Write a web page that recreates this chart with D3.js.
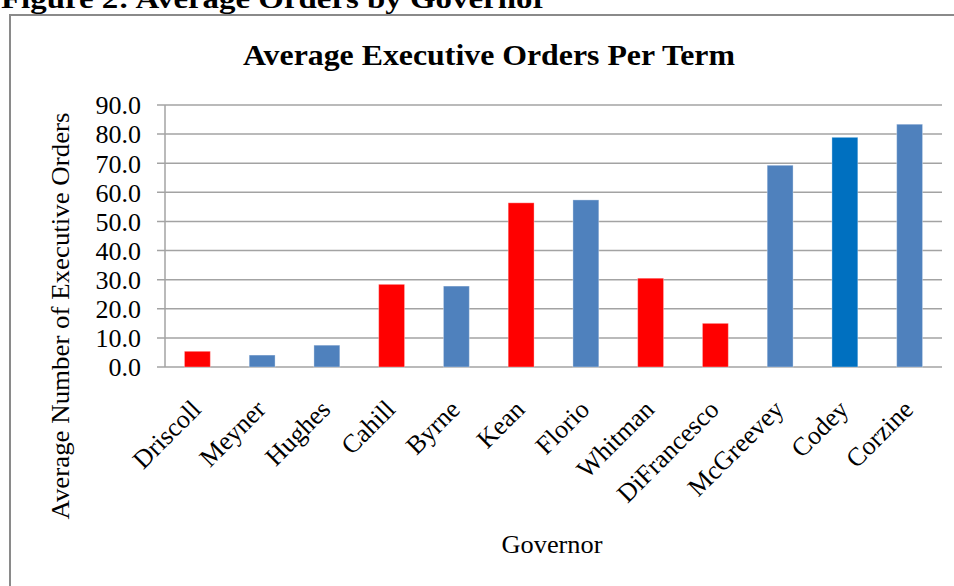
<!DOCTYPE html>
<html>
<head>
<meta charset="utf-8">
<script src="https://cdn.jsdelivr.net/npm/d3@7"></script>
<style>
  html, body { margin: 0; padding: 0; background: #fff; overflow: hidden; }
  svg { display: block; }
  text { font-family: "Liberation Serif", "Times New Roman", serif; fill: #000; }
</style>
</head>
<body>
<svg id="chart" width="954" height="586"></svg>
<script>
// ---- data ----
const governors = ["Driscoll", "Meyner", "Hughes", "Cahill", "Byrne", "Kean", "Florio",
                   "Whitman", "DiFrancesco", "McGreevey", "Codey", "Corzine"];
const avgOrders = [5.4, 4.1, 7.5, 28.4, 27.8, 56.4, 57.4, 30.5, 15.0, 69.3, 78.9, 83.4];
const barColors = ["#FF0000", "#4F81BD", "#4F81BD", "#FF0000", "#4F81BD", "#FF0000", "#4F81BD",
                   "#FF0000", "#FF0000", "#4F81BD", "#0070C0", "#4F81BD"];
const yTicks = [0, 10, 20, 30, 40, 50, 60, 70, 80, 90];
const captionText = "Figure 2:  Average Orders by Governor";
const chartTitle = "Average Executive Orders Per Term";
const yTitle = "Average Number of Executive Orders";
const xTitle = "Governor";

(function () {
const svg = d3.select("#chart");

// outer caption (cut at top, as in the reference)
svg.append("text")
  .attr("x", 1).attr("y", 8)
  .attr("font-size", 28).attr("font-weight", "bold")
  .attr("textLength", 546).attr("lengthAdjust", "spacingAndGlyphs")
  .text(captionText);

// chart frame
svg.append("rect")
  .attr("x", 10).attr("y", 15).attr("width", 1000).attr("height", 700)
  .attr("fill", "none").attr("stroke", "#8a8a8a").attr("stroke-width", 2);

const pLeft = 165, pRight = 942, pTop = 105, pBottom = 367;

const x = d3.scaleBand().domain(governors).range([pLeft, pRight])
  .paddingInner(0.6).paddingOuter(0.3);
const y = d3.scaleLinear().domain([0, 90]).range([pBottom, pTop]);

// title
svg.append("text")
  .attr("x", 489).attr("y", 65).attr("text-anchor", "middle")
  .attr("font-size", 30).attr("font-weight", "bold")
  .attr("textLength", 492).attr("lengthAdjust", "spacingAndGlyphs")
  .text(chartTitle);

// gridlines
svg.append("g").selectAll("line").data(yTicks).join("line")
  .attr("x1", pLeft - 8).attr("x2", pRight)
  .attr("y1", d => y(d)).attr("y2", d => y(d))
  .attr("stroke", "#a3a3a3").attr("stroke-width", 1.5);

// y axis line
svg.append("line")
  .attr("x1", pLeft).attr("x2", pLeft).attr("y1", y(90)).attr("y2", y(0))
  .attr("stroke", "#a3a3a3").attr("stroke-width", 1.5);

// y tick labels via d3 axis
const yAxis = d3.axisLeft(y).tickValues(yTicks).tickFormat(d3.format(".1f")).tickSize(0).tickPadding(0);
const ya = svg.append("g").attr("transform", `translate(${pLeft - 24},0)`).call(yAxis);
ya.select(".domain").remove();
ya.selectAll("text")
  .attr("font-size", 26)
  .attr("dy", "0.34em")
  .attr("font-family", "Liberation Serif, Times New Roman, serif")
  .attr("fill", "#000");

// bars
svg.append("g").selectAll("rect").data(governors).join("rect")
  .attr("x", d => x(d))
  .attr("width", x.bandwidth())
  .attr("y", (d, i) => y(avgOrders[i]))
  .attr("height", (d, i) => y(0) - y(avgOrders[i]))
  .attr("fill", (d, i) => barColors[i])
  .attr("stroke", "#ffffff").attr("stroke-opacity", 0.35).attr("stroke-width", 1);

// category labels rotated
svg.append("g").selectAll("text").data(governors).join("text")
  .attr("transform", d => `translate(${x(d) + x.bandwidth() / 2 + 5},${411}) rotate(-45)`)
  .attr("text-anchor", "end")
  .attr("font-size", 26)
  .text(d => d);

// axis titles
svg.append("text")
  .attr("transform", `translate(69,316) rotate(-90)`)
  .attr("text-anchor", "middle")
  .attr("font-size", 25)
  .attr("textLength", 407).attr("lengthAdjust", "spacingAndGlyphs")
  .text(yTitle);

svg.append("text")
  .attr("x", 552).attr("y", 553).attr("text-anchor", "middle")
  .attr("font-size", 25)
  .attr("textLength", 101).attr("lengthAdjust", "spacingAndGlyphs")
  .text(xTitle);
})();
</script>
</body>
</html>
